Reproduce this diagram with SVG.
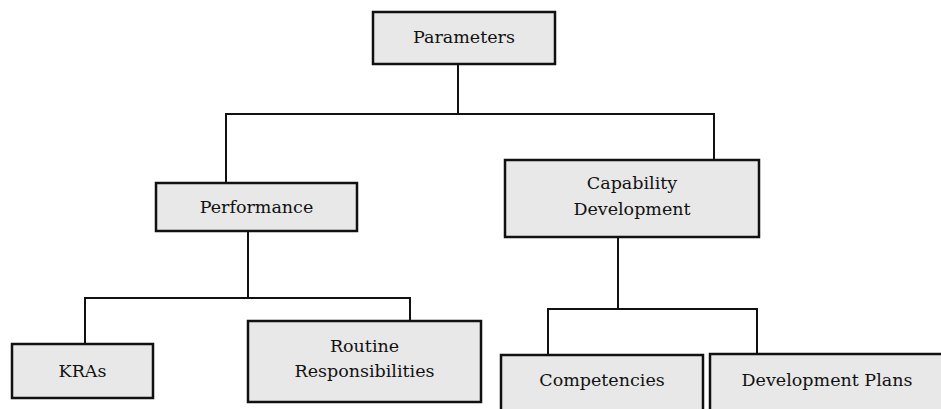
<svg xmlns="http://www.w3.org/2000/svg" width="941" height="409" viewBox="0 0 941 409">
<style>
.box{fill:#e8e8e8;stroke:#111;stroke-width:2.5}
.lbl{font-family:"DejaVu Serif","Liberation Serif",serif;font-size:17.5px;fill:#111;text-anchor:middle}
.con{fill:none;stroke:#111;stroke-width:2}
</style>
<rect width="941" height="409" fill="#fff"/>
<g id="connectors">
<path class="con" d="M458,64V114M226,114H714M226,113V183M714,113V160"/>
<path class="con" d="M248,231V298M85,298H410M85,297V344M410,297V321"/>
<path class="con" d="M618,237V309M548,309H757M548,308V355M757,308V354"/>
</g>
<g id="parameters"><rect class="box" x="373" y="12" width="182" height="52"/><text class="lbl" x="464" y="43">Parameters</text></g>
<g id="performance"><rect class="box" x="156" y="183" width="201" height="48"/><text class="lbl" x="256.5" y="213">Performance</text></g>
<g id="capability"><rect class="box" x="505" y="160" width="254" height="77"/><text class="lbl" x="632" y="189">Capability</text><text class="lbl" x="632" y="215">Development</text></g>
<g id="kras"><rect class="box" x="12" y="344" width="141" height="54"/><text class="lbl" x="82.5" y="377">KRAs</text></g>
<g id="routine"><rect class="box" x="248" y="321" width="233" height="81"/><text class="lbl" x="364.5" y="352">Routine</text><text class="lbl" x="364.5" y="377">Responsibilities</text></g>
<g id="competencies"><rect class="box" x="501" y="355" width="202" height="60"/><text class="lbl" x="602" y="386">Competencies</text></g>
<g id="devplans"><rect class="box" x="710" y="354" width="236" height="60"/><text class="lbl" x="827" y="386">Development Plans</text></g>
</svg>
